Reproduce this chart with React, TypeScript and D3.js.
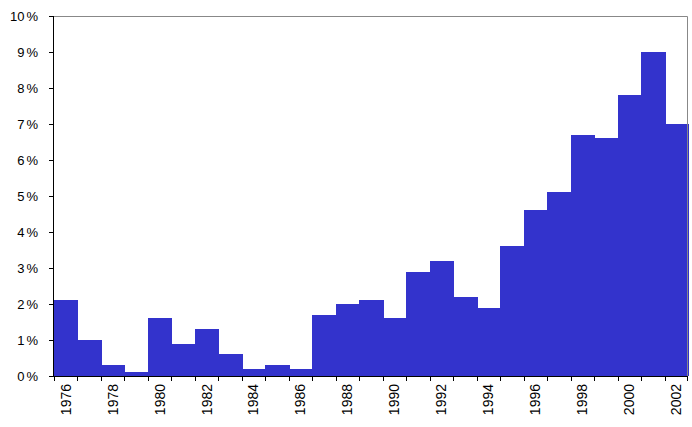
import React from "react";
import * as d3 from "d3";

const years = [1976,1977,1978,1979,1980,1981,1982,1983,1984,1985,1986,1987,1988,1989,1990,1991,1992,1993,1994,1995,1996,1997,1998,1999,2000,2001,2002];
const values = [2.1,1.0,0.3,0.1,1.6,0.9,1.3,0.6,0.2,0.3,0.2,1.7,2.0,2.1,1.6,2.9,3.2,2.2,1.9,3.6,4.6,5.1,6.7,6.6,7.8,9.0,7.0];
const yTicks = [0,1,2,3,4,5,6,7,8,9,10];

export default function App() {
  const W = 692, H = 427;
  const left = 54, right = 688, top = 16, bottom = 376;
  const x = d3.scaleBand<number>().domain(years).range([left, right]).padding(0);
  const y = d3.scaleLinear().domain([0, 10]).range([bottom, top]);
  const font = "Liberation Sans, Arial, sans-serif";
  return (
    <svg width={W} height={H} style={{ position: "absolute", left: 0, top: 0 }}>
      <rect width={W} height={H} fill="#fff" />
      {years.map((yr, i) => (
        <rect key={yr} x={Math.round(x(yr)!)} y={Math.round(y(values[i]))}
          width={Math.round(x(yr)! + x.bandwidth()) - Math.round(x(yr)!) + 1}
          height={bottom - Math.round(y(values[i]))} fill="#3333CC" shapeRendering="crispEdges" />
      ))}
      <path d={`M${left},${top + 0.5}H${right - 0.5}V${bottom}`} fill="none" stroke="#888" strokeWidth={1} />
      <line x1={left - 0.5} x2={left - 0.5} y1={top} y2={bottom + 1} stroke="#000" />
      <line x1={left} x2={right} y1={bottom + 0.5} y2={bottom + 0.5} stroke="#000" />
      {yTicks.map(t => (
        <g key={t}>
          <line x1={left - 5} x2={left} y1={Math.round(y(t)) + 0.5} y2={Math.round(y(t)) + 0.5} stroke="#000" />
          <text x={38} y={y(t)} dy="0.35em" textAnchor="end" fontFamily={font} fontSize={13} fill="#000">{t}<tspan dx={2}>%</tspan></text>
        </g>
      ))}
      {years.map((yr) => (
        <line key={"t" + yr} x1={Math.round(x(yr)!) + 0.5} x2={Math.round(x(yr)!) + 0.5} y1={bottom} y2={bottom + 5} stroke="#000" />
      ))}
      <line x1={right - 0.5} x2={right - 0.5} y1={bottom} y2={bottom + 5} stroke="#000" />
      {years.filter(yr => yr % 2 === 0).map(yr => {
        const cx = x(yr)! + x.bandwidth() / 2;
        return (
          <text key={"l" + yr} transform={`translate(${cx},384) rotate(-90)`} dy="0.35em" textAnchor="end" fontFamily={font} fontSize={14} fill="#000">{yr}</text>
        );
      })}
    </svg>
  );
}
